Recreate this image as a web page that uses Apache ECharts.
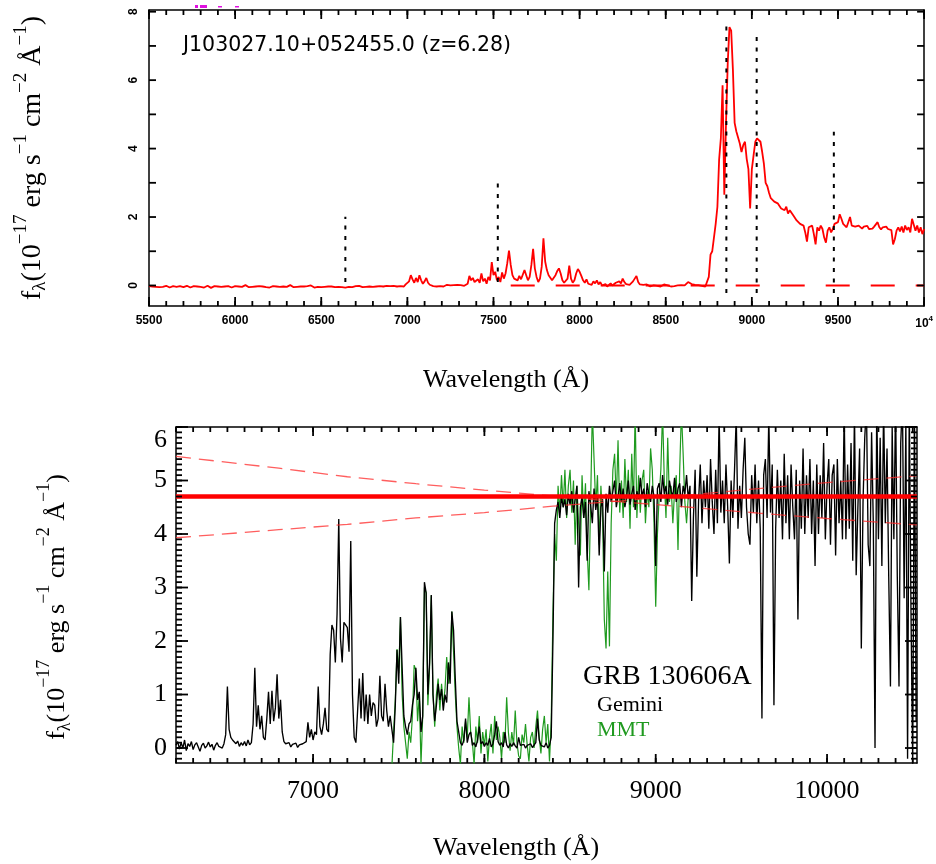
<!DOCTYPE html>
<html>
<head>
<meta charset="utf-8">
<script src="https://cdn.jsdelivr.net/npm/echarts@6/dist/echarts.min.js"></script>
<style>
  html, body { margin: 0; padding: 0; background: #fff; }
  #chart { width: 936px; height: 864px; }
</style>
</head>
<body>
<div id="chart"></div>
<script>
// ---------------- Quasar J103027.10+052455.0 (upper panel) ----------------
// flux samples on a uniform wavelength grid (Angstrom), 10 A spacing
const qsoStart = 5500, qsoStep = 10;
const qsoFlux = [
  -0.02,-0.05,-0.03,-0.06,-0.04,-0.02,-0.05,-0.07,-0.04,-0.03,
  -0.01,-0.04,-0.06,-0.03,-0.02,0.00,-0.04,-0.05,-0.02,-0.03,
  -0.05,-0.03,-0.01,-0.04,-0.06,-0.03,-0.02,0.01,-0.03,-0.05,
  -0.04,-0.02,-0.06,-0.03,-0.01,-0.04,-0.07,-0.03,-0.02,-0.05,
  -0.03,-0.06,-0.04,-0.01,-0.03,0.02,-0.02,-0.04,-0.06,-0.03,
  -0.02,-0.05,-0.03,-0.07,-0.04,-0.02,0.01,-0.03,-0.05,-0.02,
  -0.04,-0.01,-0.03,-0.06,-0.02,-0.04,-0.03,0.00,-0.05,-0.03,
  -0.06,-0.04,-0.02,-0.05,-0.03,-0.01,-0.04,-0.06,-0.03,-0.02,
  -0.04,-0.02,0.01,-0.03,-0.05,-0.02,-0.04,-0.06,-0.03,-0.01,
  -0.03,-0.05,-0.02,-0.04,0.00,-0.03,-0.06,-0.02,-0.04,-0.03,
  -0.05,-0.02,-0.04,-0.01,-0.03,-0.06,-0.03,-0.02,-0.05,-0.03,
  -0.04,-0.02,-0.05,-0.03,-0.06,-0.11,-0.04,-0.02,-0.05,-0.03,
  -0.02,-0.04,-0.01,-0.03,-0.05,-0.02,-0.04,0.00,-0.03,-0.02,
  -0.04,-0.01,-0.03,-0.05,-0.02,0.01,-0.03,-0.04,-0.01,-0.03,
  -0.02,-0.04,-0.01,0.02,-0.03,-0.05,-0.02,0.00,-0.03,0.03,
  0.05,0.12,0.30,0.18,0.08,0.22,0.10,0.30,0.15,0.05,
  0.12,0.22,0.08,0.02,0.00,-0.02,0.01,-0.03,0.00,-0.02,
  0.01,-0.03,-0.01,0.02,-0.02,0.00,-0.03,0.01,-0.01,0.02,
  -0.02,0.01,0.03,-0.01,0.02,0.05,0.28,0.15,0.22,0.10,
  0.05,0.18,0.08,0.35,0.12,0.20,0.05,0.25,0.15,0.68,
  0.30,0.40,0.15,0.25,0.10,0.38,0.20,0.35,0.65,1.02,
  0.60,0.30,0.20,0.25,0.15,0.28,0.18,0.22,0.45,0.30,
  0.15,0.25,0.60,1.07,0.50,0.25,0.10,0.20,0.55,1.38,
  0.70,0.45,0.30,0.25,0.15,0.20,0.30,0.42,0.50,0.35,
  0.15,0.08,0.05,0.20,0.58,0.20,0.08,0.15,0.35,0.48,
  0.40,0.28,0.15,0.08,0.18,0.05,0.10,0.02,0.12,0.06,
  0.15,0.03,0.10,0.00,-0.02,0.04,-0.03,0.02,0.06,0.00,
  0.03,0.08,0.05,0.12,0.06,0.20,0.10,0.04,0.08,0.02,
  0.06,0.12,0.15,0.28,0.10,0.03,0.00,0.02,-0.02,0.03,
  0.01,-0.03,0.02,0.00,0.04,-0.01,0.02,-0.03,0.01,0.03,
  -0.02,0.00,0.02,-0.03,0.01,-0.02,0.03,0.00,-0.02,0.01,
  0.03,0.00,0.05,0.10,0.07,0.04,0.06,0.02,0.04,0.01,
  0.03,-0.01,0.02,-0.03,0.01,0.25,0.90,1.00,1.05,1.80,
  2.30,3.68,4.30,5.85,2.65,4.75,6.50,7.55,7.45,6.30,
  4.75,4.50,4.45,4.15,3.90,4.10,4.20,3.70,3.40,2.25,
  3.40,3.80,4.20,4.30,4.35,4.20,3.90,3.55,3.00,2.90,
  2.70,2.55,2.60,2.45,2.50,2.40,2.35,2.25,2.30,2.20,
  2.30,2.10,2.20,2.15,2.05,2.00,1.90,1.85,1.80,1.80,
  1.75,1.55,1.28,1.70,1.65,1.75,1.50,1.20,1.70,1.60,
  1.75,1.65,1.40,1.25,1.60,1.70,1.55,1.65,1.80,1.75,
  1.85,2.08,1.95,1.80,1.75,1.70,1.85,2.00,1.75,1.70,
  1.72,1.68,1.75,1.70,1.66,1.72,1.68,1.74,1.65,1.70,
  1.66,1.72,1.68,1.85,1.70,1.64,1.70,1.66,1.72,1.65,
  1.68,1.62,1.20,1.35,1.60,1.70,1.58,1.72,1.55,1.75,
  1.62,1.70,1.55,1.95,2.00,1.60,1.75,1.55,1.70,1.50,
  1.65
];
// dashed zero-flux reference
const qsoZeroLine = [[7600, 0], [10000, 0]];
// emission / absorption line markers: wavelength, bottom and top of the dotted line
const markWaves  = [6640, 7525, 8852, 9028, 9476];
const markBottom = [0.10, 0.10, -0.22, -0.22, -0.22];
const markTop    = [2.01, 2.98, 7.75, 7.45, 4.49];
const qsoXTicks = [5500, 6000, 6500, 7000, 7500, 8000, 8500, 9000, 9500, 10000];
const qsoYTicks = [0, 2, 4, 6, 8];

// ---------------- GRB 130606A afterglow (lower panel) ----------------
const gemStart = 6200, gemStep = 10;
const gemFlux = [
  0.05,0.12,-0.02,0.10,0.00,0.15,-0.05,0.08,0.03,0.12,
  -0.03,0.06,0.10,0.02,-0.06,0.05,0.09,0.00,0.04,0.11,
  0.02,0.07,-0.04,0.05,0.10,0.03,0.06,0.00,0.08,0.25,
  1.15,0.35,0.20,0.15,0.12,0.08,0.13,0.03,0.10,0.05,
  0.12,0.04,0.15,0.06,0.10,0.45,1.50,0.40,0.80,0.35,
  0.60,0.20,0.15,0.55,1.05,0.45,1.07,0.50,0.75,1.38,
  0.55,0.90,0.30,0.12,0.08,0.05,0.10,0.02,0.07,0.04,
  0.09,0.01,0.06,0.03,0.08,0.05,0.12,0.48,0.20,0.35,
  0.15,0.30,0.25,1.15,0.40,0.25,0.45,0.75,0.35,0.30,
  1.75,2.30,2.20,1.60,2.50,4.28,2.05,1.60,2.35,2.30,
  2.25,1.80,3.87,1.00,0.20,0.10,0.12,1.30,0.55,1.40,
  0.50,1.00,0.45,1.00,0.60,0.85,0.80,0.40,0.55,1.35,
  0.60,0.50,1.20,0.70,0.40,0.60,0.35,0.10,0.80,1.83,
  1.20,2.45,1.50,0.60,0.40,0.25,0.45,0.50,0.80,1.00,
  1.50,0.90,1.05,0.30,0.60,3.10,2.90,1.00,1.60,2.86,
  1.00,0.50,0.80,1.20,0.90,1.10,0.70,1.00,0.85,1.60,
  1.20,2.55,2.20,1.30,0.50,0.30,0.10,0.05,0.15,0.55,
  0.10,0.25,0.30,0.05,0.10,0.02,0.15,0.40,0.08,0.12,
  0.03,0.10,0.05,0.18,0.02,0.08,0.25,0.50,0.12,0.05,
  0.10,0.02,0.30,0.06,0.00,0.08,0.03,0.10,0.04,0.00,
  0.20,0.05,0.02,0.07,0.00,0.05,0.02,0.08,0.01,0.04,
  0.10,0.55,0.15,0.05,0.08,0.02,0.10,0.00,0.05,0.20,
  2.00,4.20,4.45,4.60,4.30,4.70,4.50,4.65,4.35,4.75,
  4.55,4.80,4.40,4.65,4.90,3.00,4.50,4.70,4.30,4.60,
  3.50,4.80,4.55,4.20,4.85,4.45,4.70,3.60,4.50,4.65,
  3.30,4.75,4.40,4.90,4.60,4.80,5.00,4.50,4.70,4.95,
  4.60,4.85,4.50,4.70,5.00,4.55,4.75,4.90,4.45,4.80,
  4.65,5.05,4.70,4.85,4.50,4.95,4.75,4.60,4.90,4.70,
  3.40,4.85,4.95,4.60,5.10,4.75,4.90,4.55,5.00,4.80,
  4.70,5.05,4.60,4.85,4.95,4.50,4.90,4.75,5.10,4.65,
  4.90,2.75,4.30,5.20,3.20,4.60,5.30,4.20,5.00,4.50,
  5.10,4.10,5.40,4.60,4.00,5.20,4.20,6.20,4.40,5.00,
  4.20,5.30,4.50,3.45,5.00,4.30,5.20,6.20,4.10,4.90,
  4.30,5.20,5.80,4.50,4.00,3.80,5.10,4.40,5.30,4.20,
  5.00,4.10,0.55,5.10,5.40,4.30,6.20,4.40,5.30,0.80,
  4.10,5.20,4.30,5.00,3.90,5.50,4.20,5.10,3.90,5.30,
  4.50,3.90,5.20,2.40,5.00,4.10,5.60,4.00,5.10,4.30,
  5.40,4.00,5.00,3.40,5.30,4.00,5.10,4.30,5.70,3.90,
  4.90,5.40,3.80,5.10,5.30,3.60,5.40,4.20,5.00,3.90,
  6.30,3.90,5.30,4.10,5.70,3.50,6.30,3.23,4.50,5.60,
  1.86,4.60,5.80,6.40,3.80,3.40,5.90,4.20,0.00,6.50,
  3.90,5.80,3.40,6.40,4.20,5.60,3.20,1.15,6.00,3.90,
  6.50,3.20,1.15,5.70,6.50,2.80,6.10,-0.20,6.50,2.50,
  -0.30,6.50,0.50
];
const mmtStart = 7460, mmtStep = 10;
const mmtFlux = [
  -0.35,0.30,0.90,1.85,1.40,2.45,1.00,0.40,0.10,-0.20,
  0.30,0.10,0.60,1.55,1.45,0.50,1.00,-0.30,0.60,3.00,
  2.90,0.80,1.50,2.85,1.00,0.40,1.00,1.30,0.70,1.20,
  0.80,1.10,1.70,1.20,1.60,2.55,1.80,1.00,0.40,0.00,
  -0.30,0.40,0.10,0.50,0.20,0.95,0.30,0.10,-0.30,0.40,
  0.10,0.60,-0.10,0.30,0.05,0.35,-0.25,0.20,0.45,-0.10,
  0.60,0.15,0.40,0.20,-0.20,0.30,0.10,0.95,0.30,-0.05,
  0.30,0.05,0.70,0.10,-0.15,-0.20,0.25,0.10,0.45,0.05,
  -0.25,0.20,0.30,0.00,0.40,0.70,0.20,-0.10,0.35,0.60,
  0.10,0.45,-0.25,0.50,2.50,4.00,3.50,4.90,4.40,5.10,
  4.50,5.20,4.30,4.90,5.20,4.40,5.00,3.80,4.90,4.20,
  3.60,5.10,4.30,4.95,3.70,2.95,4.60,6.30,5.40,4.50,
  5.10,3.80,4.90,4.30,2.40,1.86,3.30,1.90,4.20,5.20,
  5.50,4.60,5.75,4.40,5.00,4.30,5.40,4.60,5.20,4.10,
  5.50,4.50,6.30,4.30,5.10,4.40,5.00,5.20,4.20,4.80,
  4.50,5.60,5.20,4.20,2.64,4.00,4.70,5.20,6.30,5.00,
  4.30,5.80,4.60,4.90,4.20,4.80,5.10,3.70,5.20,6.30,
  5.50,4.60,4.20,4.70
];
// continuum level and its upper / lower envelope
const fitLevel = 4.70;
const envWaves = [6200, 6800, 7200, 7600, 8000, 8400, 8800, 9200, 9600, 10000, 10525];
const envUpper = [5.45, 5.23, 5.07, 4.94, 4.82, 4.71, 4.60, 4.50, 4.39, 4.29, 4.17];
const envLower = [3.93, 4.08, 4.18, 4.30, 4.40, 4.52, 4.62, 4.73, 4.85, 4.96, 5.09];
const grbXTicks = [7000, 8000, 9000, 10000];
const grbYTicks = [0, 1, 2, 3, 4, 5, 6];

// ---------------- helpers ----------------
const SERIF = '"Liberation Serif", "DejaVu Serif", serif';
const SANS = '"Liberation Sans", Arial, sans-serif';

function steps(a, b, s) {
  const out = [];
  for (let i = 0; a + i * s <= b + 1e-9; i++) out.push(+(a + i * s).toFixed(6));
  return out;
}
function toPairs(start, step, vals) {
  return vals.map((v, i) => [start + i * step, v]);
}

const QX = [5500, 10000], QY = [-0.6, 8.05];
const GX = [6200, 10525], GY = [-0.28, 6.0];

function axis(grid, pos, range, label) {
  return {
    type: 'value', gridIndex: grid, position: pos, min: range[0], max: range[1],
    splitLine: { show: false }, axisPointer: { show: false },
    axisLine: { show: true, onZero: false, lineStyle: { color: '#000', width: 1.5 } },
    axisTick: { show: false },
    axisLabel: label || { show: false }
  };
}

// axis indices: 0/1 = upper panel bottom/top (x) and left/right (y); 2/3 = lower panel
const xAxes = [
  axis(0, 'bottom', QX, {
    show: true, customValues: qsoXTicks, margin: 9,
    fontFamily: SANS, fontWeight: 'bold', fontSize: 12, color: '#000',
    formatter: v => v === 10000 ? '10{e|4}' : String(v),
    rich: { e: { fontFamily: SANS, fontWeight: 'bold', fontSize: 8, padding: [0, 0, 9, 0] } }
  }),
  axis(0, 'top', QX),
  axis(1, 'bottom', GX, {
    show: true, customValues: grbXTicks, margin: 15,
    fontFamily: SERIF, fontSize: 26, color: '#000', formatter: v => String(v)
  }),
  axis(1, 'top', GX)
];
const yAxes = [
  axis(0, 'left', QY, {
    show: true, customValues: qsoYTicks, margin: 9, rotate: 90,
    fontFamily: SANS, fontWeight: 'bold', fontSize: 12, color: '#000', formatter: v => String(v)
  }),
  axis(0, 'right', QY),
  axis(1, 'left', GY, {
    show: true, customValues: grbYTicks, margin: 9,
    fontFamily: SERIF, fontSize: 26, color: '#000', formatter: v => String(v),
    verticalAlignMaxLabel: 'top'
  }),
  axis(1, 'right', GY)
];

// ---------------- series ----------------
const series = [];
series.push({
  type: 'line', xAxisIndex: 0, yAxisIndex: 0, symbol: 'none', silent: true,
  data: qsoZeroLine, lineStyle: { color: '#ff0000', width: 2, type: [24, 21] }, z: 2
});
series.push({
  type: 'line', xAxisIndex: 0, yAxisIndex: 0, symbol: 'none', silent: true,
  data: toPairs(qsoStart, qsoStep, qsoFlux), lineStyle: { color: '#ff0000', width: 1.8 }, z: 3
});
markWaves.forEach((w, i) => {
  series.push({
    type: 'line', xAxisIndex: 0, yAxisIndex: 0, symbol: 'none', silent: true,
    data: [[w, markBottom[i]], [w, markTop[i]]],
    lineStyle: { color: '#000', width: 2, type: [4, 6.5] }, z: 4
  });
});
series.push({
  type: 'line', xAxisIndex: 2, yAxisIndex: 2, symbol: 'none', silent: true,
  data: toPairs(mmtStart, mmtStep, mmtFlux), lineStyle: { color: '#1f9a1f', width: 1.2 }, z: 2
});
series.push({
  type: 'line', xAxisIndex: 2, yAxisIndex: 2, symbol: 'none', silent: true,
  data: toPairs(gemStart, gemStep, gemFlux), lineStyle: { color: '#000', width: 1.35 }, z: 3
});
[envUpper, envLower].forEach(env => {
  series.push({
    type: 'line', xAxisIndex: 2, yAxisIndex: 2, symbol: 'none', silent: true,
    data: envWaves.map((w, i) => [w, env[i]]),
    lineStyle: { color: 'rgba(255,40,40,0.75)', width: 1.3, type: [15, 8] }, z: 4
  });
});
series.push({
  type: 'line', xAxisIndex: 2, yAxisIndex: 2, symbol: 'none', silent: true,
  data: [[GX[0], fitLevel], [GX[1], fitLevel]],
  lineStyle: { color: '#ff0000', width: 4.5 }, z: 5
});

// ---------------- text ----------------
function fluxTitle(x, y, size, supSize, raise) {
  return {
    type: 'text', x: x, y: y, rotation: Math.PI / 2, silent: true,
    style: {
      text: 'f{sub|λ}(10{sup|−17} erg s{sup|−1} cm{sup|−2} Å{sup|−1})',
      fontFamily: SERIF, fontSize: size, fill: '#000',
      align: 'center', verticalAlign: 'middle',
      rich: {
        sup: { fontFamily: SERIF, fontSize: supSize, fill: '#000', verticalAlign: 'middle', padding: [0, 0, raise, 0] },
        sub: { fontFamily: SERIF, fontSize: supSize, fill: '#000', verticalAlign: 'middle', padding: [raise * 0.6, 0, 0, 0] }
      }
    }
  };
}
function plainText(x, y, text, font, size, color, align) {
  return {
    type: 'text', x: x, y: y, silent: true,
    style: { text: text, fontFamily: font, fontSize: size, fill: color || '#000',
             align: align || 'left', verticalAlign: 'middle' }
  };
}

const labels = [
  plainText(183, 46, 'J103027.10+052455.0 (z=6.28)', '"DejaVu Sans", sans-serif', 20.5, '#000'),
  fluxTitle(33, 158, 28, 19, 24),
  plainText(506, 380, 'Wavelength (Å)', SERIF, 26, '#000', 'center'),
  fluxTitle(57, 607, 26, 18, 26),
  plainText(516, 848, 'Wavelength (Å)', SERIF, 26, '#000', 'center'),
  plainText(583, 677, 'GRB 130606A', SERIF, 28, '#000'),
  plainText(597, 705, 'Gemini', SERIF, 22, '#000'),
  plainText(597, 730, 'MMT', SERIF, 22, '#1f9a1f'),
  { type: 'rect', silent: true, shape: { x: 195, y: 5, width: 3, height: 3 }, style: { fill: '#e010e0' } },
  { type: 'rect', silent: true, shape: { x: 200, y: 5, width: 7, height: 3 }, style: { fill: '#e010e0' } },
  { type: 'rect', silent: true, shape: { x: 218, y: 6, width: 4, height: 1.5 }, style: { fill: '#e010e0' } },
  { type: 'rect', silent: true, shape: { x: 235, y: 6, width: 4, height: 1.5 }, style: { fill: '#e010e0' } }
];

const chart = echarts.init(document.getElementById('chart'), null, { renderer: 'canvas' });
chart.setOption({
  animation: false,
  backgroundColor: '#fff',
  grid: [
    { left: 149, top: 10, width: 777, height: 296 },
    { left: 176, top: 427, width: 741, height: 336 }
  ],
  xAxis: xAxes,
  yAxis: yAxes,
  series: series
});

// Inward frame ticks on all four sides; positions come from the axis scales.
function frameTicks(xi, yi, xr, yr, xT, yT) {
  const px = v => chart.convertToPixel({ xAxisIndex: xi }, v);
  const py = v => chart.convertToPixel({ yAxisIndex: yi }, v);
  const left = px(xr[0]), right = px(xr[1]), bottom = py(yr[0]), top = py(yr[1]);
  const st = { stroke: '#000', lineWidth: 1.8 };
  const seg = (x1, y1, x2, y2) => ({ type: 'line', silent: true, z: 100,
    shape: { x1: x1, y1: y1, x2: x2, y2: y2 }, style: st });
  const out = [];
  xT.forEach(([v, len]) => {
    const x = px(v);
    out.push(seg(x, bottom, x, bottom - len), seg(x, top, x, top + len));
  });
  yT.forEach(([v, len]) => {
    const y = py(v);
    out.push(seg(left, y, left + len, y), seg(right, y, right - len, y));
  });
  return out;
}
const withLen = (vals, len) => vals.map(v => [v, len]);
const ticks = [].concat(
  frameTicks(0, 0, QX, QY,
    withLen(steps(5500, 10000, 100), 5).concat(withLen(qsoXTicks, 9)),
    withLen(steps(0, 8, 1), 7)),
  frameTicks(2, 2, GX, GY,
    withLen(steps(6200, 10500, 100), 5).concat(withLen(grbXTicks, 9)),
    withLen(steps(-0.2, 6, 0.1), 6).concat(withLen(grbYTicks, 12)))
);

chart.setOption({ graphic: labels.concat(ticks) });
</script>
</body>
</html>
